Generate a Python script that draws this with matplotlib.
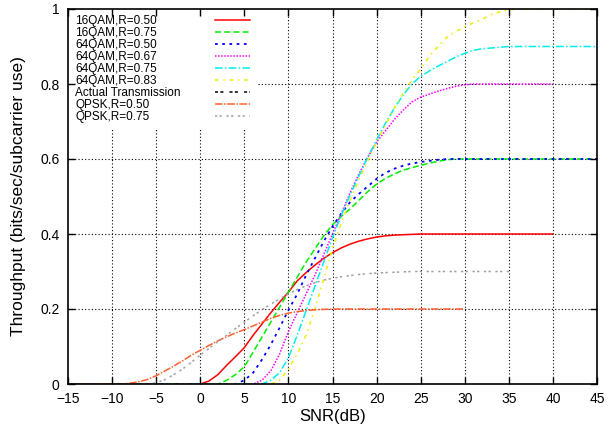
import matplotlib
matplotlib.use('Agg')
import matplotlib.pyplot as plt

plt.rcParams['font.family'] = ['Liberation Sans', 'DejaVu Sans']

# 16QAM, R=0.50
snr_16qam_050 = [-15, 0, 1, 2, 3, 4, 5, 6, 7, 8, 9, 10, 11, 12, 13, 14, 15, 16, 17, 18, 19, 20,
                 21, 22, 23, 24, 25, 40]
thr_16qam_050 = [0, 0, 0.008, 0.025, 0.05, 0.073, 0.097, 0.13, 0.16, 0.19, 0.218, 0.245, 0.275,
                 0.297, 0.317, 0.335, 0.35, 0.363, 0.373, 0.381, 0.387, 0.392, 0.395, 0.397,
                 0.398, 0.399, 0.4, 0.4]

# 16QAM, R=0.75
snr_16qam_075 = [-15, 2, 3, 4, 5, 6, 7, 8, 9, 10, 11, 12, 13, 14, 15, 16, 17, 18, 19, 20, 21,
                 22, 23, 24, 25, 26, 27, 28, 29, 45]
thr_16qam_075 = [0, 0, 0.01, 0.025, 0.046, 0.085, 0.125, 0.165, 0.205, 0.245, 0.285, 0.325,
                 0.36, 0.395, 0.425, 0.447, 0.467, 0.49, 0.513, 0.533, 0.548, 0.56, 0.57,
                 0.577, 0.583, 0.589, 0.594, 0.598, 0.6, 0.6]

# 64QAM, R=0.50
snr_64qam_050 = [-15, 4, 5, 6, 7, 8, 9, 10, 11, 12, 13, 14, 15, 16, 17, 18, 19, 20, 21, 22, 23,
                 24, 25, 26, 27, 28, 45]
thr_64qam_050 = [0, 0, 0.01, 0.03, 0.065, 0.105, 0.15, 0.197, 0.24, 0.29, 0.335, 0.38, 0.42,
                 0.455, 0.485, 0.507, 0.527, 0.547, 0.563, 0.574, 0.582, 0.588, 0.592, 0.595,
                 0.598, 0.6, 0.6]

# 64QAM, R=0.67
snr_64qam_067 = [-15, 6, 7, 8, 9, 10, 11, 12, 13, 14, 15, 16, 17, 18, 19, 20, 21, 22, 23, 24,
                 25, 26, 27, 28, 29, 30, 31, 40]
thr_64qam_067 = [0, 0, 0.01, 0.035, 0.08, 0.14, 0.19, 0.24, 0.29, 0.345, 0.4, 0.455, 0.51,
                 0.56, 0.605, 0.645, 0.675, 0.705, 0.73, 0.752, 0.765, 0.773, 0.781, 0.788,
                 0.794, 0.798, 0.8, 0.8]

# 64QAM, R=0.75
snr_64qam_075 = [-15, 7, 8, 9, 10, 11, 12, 13, 14, 15, 16, 17, 18, 19, 20, 21, 22, 23, 24, 25,
                 26, 27, 28, 29, 30, 31, 32, 33, 34, 35, 45]
thr_64qam_075 = [0, 0, 0.01, 0.03, 0.07, 0.13, 0.195, 0.26, 0.325, 0.39, 0.45, 0.505, 0.555,
                 0.605, 0.65, 0.695, 0.735, 0.77, 0.8, 0.82, 0.835, 0.848, 0.86, 0.872, 0.882,
                 0.89, 0.894, 0.896, 0.898, 0.9, 0.9]

# 64QAM, R=0.83
snr_64qam_083 = [-15, 8, 9, 10, 11, 12, 13, 14, 15, 16, 17, 18, 19, 20, 21, 22, 23, 24, 25, 26,
                 27, 28, 29, 30, 31, 32, 33, 34, 35, 36, 45]
thr_64qam_083 = [0, 0, 0.01, 0.04, 0.08, 0.13, 0.2, 0.28, 0.36, 0.43, 0.49, 0.545, 0.595,
                 0.645, 0.69, 0.735, 0.775, 0.81, 0.84, 0.875, 0.9, 0.925, 0.94, 0.953, 0.963,
                 0.973, 0.985, 0.993, 0.998, 1.0, 1.0]

# Actual Transmission (no visible curve)
snr_actual = []
thr_actual = []

# QPSK, R=0.50
snr_qpsk_050 = [-15, -9, -8, -7, -6, -5, -4, -3, -2, -1, 0, 1, 2, 3, 4, 5, 6, 7, 8, 9, 10, 11,
                12, 13, 14, 15, 30]
thr_qpsk_050 = [0, 0, 0.002, 0.006, 0.012, 0.022, 0.035, 0.048, 0.062, 0.077, 0.09, 0.103,
                0.115, 0.126, 0.136, 0.145, 0.155, 0.165, 0.175, 0.183, 0.189, 0.193, 0.196,
                0.198, 0.199, 0.2, 0.2]

# QPSK, R=0.75
snr_qpsk_075 = [-15, -6, -5, -4, -3, -2, -1, 0, 1, 2, 3, 4, 5, 6, 7, 8, 9, 10, 11, 12, 13, 14,
                15, 16, 17, 18, 19, 20, 21, 22, 23, 24, 35]
thr_qpsk_075 = [0, 0, 0.003, 0.012, 0.025, 0.04, 0.058, 0.077, 0.095, 0.113, 0.13, 0.148,
                0.165, 0.182, 0.198, 0.213, 0.227, 0.24, 0.252, 0.262, 0.27, 0.277, 0.282,
                0.286, 0.289, 0.292, 0.294, 0.296, 0.297, 0.298, 0.299, 0.3, 0.3]

x_ticks = [-15, -10, -5, 0, 5, 10, 15, 20, 25, 30, 35, 40, 45]
y_ticks = [0, 0.2, 0.4, 0.6, 0.8, 1]
y_tick_labels = ['0', '0.2', '0.4', '0.6', '0.8', '1']

fig = plt.figure(figsize=(6.16, 4.26), dpi=100)
ax = fig.add_axes([68 / 616, 1 - 384 / 426, 529 / 616, 375 / 426])

ax.plot(snr_16qam_050, thr_16qam_050, color='#ff0000', lw=1.1, ls='-', label='16QAM,R=0.50')
ax.plot(snr_16qam_075, thr_16qam_075, color='#00ee00', lw=1.1, ls=(0, (4, 2)), label='16QAM,R=0.75')
ax.plot(snr_64qam_050, thr_64qam_050, color='#0000ff', lw=1.3, ls=(0, (1.5, 2.5)), label='64QAM,R=0.50')
ax.plot(snr_64qam_067, thr_64qam_067, color='#ff00ff', lw=1.1, ls=(0, (1, 1)), label='64QAM,R=0.67')
ax.plot(snr_64qam_075, thr_64qam_075, color='#00eeee', lw=1.1, ls=(0, (5, 1.5, 1, 1.5)), label='64QAM,R=0.75')
ax.plot(snr_64qam_083, thr_64qam_083, color='#eeee00', lw=1.1, ls=(0, (2.5, 3, 1, 3)), label='64QAM,R=0.83')
ax.plot(snr_actual, thr_actual, color='#000000', lw=1.1, ls=(0, (2, 1.5, 2, 4)), label='Actual Transmission')
ax.plot(snr_qpsk_050, thr_qpsk_050, color='#ff6030', lw=1.1, ls=(0, (5, 1, 1, 1)), label='QPSK,R=0.50')
ax.plot(snr_qpsk_075, thr_qpsk_075, color='#a0a0a0', lw=1.1, ls=(0, (1.5, 1.5, 1.5, 3)), label='QPSK,R=0.75')

ax.set_xlim(-15, 45)
ax.set_ylim(0, 1)
ax.set_xticks(x_ticks)
ax.set_yticks(y_ticks)
ax.set_yticklabels(y_tick_labels)
ax.set_axisbelow(False)
ax.tick_params(direction='in', top=True, right=True, length=5, width=1, labelsize=10, pad=6)

# dotted grid, kept under the key box
for xv in x_ticks[1:-1]:
    ax.axvline(xv, color='black', ls=(0, (1, 2)), lw=0.8, zorder=1)
for yv in y_ticks[1:-1]:
    ax.axhline(yv, color='black', ls=(0, (1, 2)), lw=0.8, zorder=1)
for sp in ax.spines.values():
    sp.set_linewidth(1.2)

ax.set_xlabel('SNR(dB)', fontsize=12, labelpad=2)
ax.set_ylabel('Throughput (bits/sec/subcarrier use)', fontsize=12.5, labelpad=10)

# gnuplot-style key: text left-justified, samples lined up on the right
leg_fs = 8.5
leg = ax.legend(loc='upper left', bbox_to_anchor=(0.0, 1.003), frameon=True, fancybox=False,
                facecolor='white', edgecolor='none', framealpha=1,
                markerfirst=False, fontsize=leg_fs, handlelength=2.9, handletextpad=2.95,
                labelspacing=0.0, borderpad=0.6, borderaxespad=0)
leg.set_zorder(2.2)
fig.canvas.draw()
renderer = fig.canvas.get_renderer()
texts = leg.get_texts()
widths = [t.get_window_extent(renderer).width for t in texts]
maxw = max(widths)
k = 0
for col in leg._legend_handle_box.get_children():
    col.align = 'left'
    for item in col.get_children():
        item.sep = item.sep + (maxw - widths[k]) * 72 / fig.dpi
        k += 1

fig.savefig('out.png', dpi=100)
